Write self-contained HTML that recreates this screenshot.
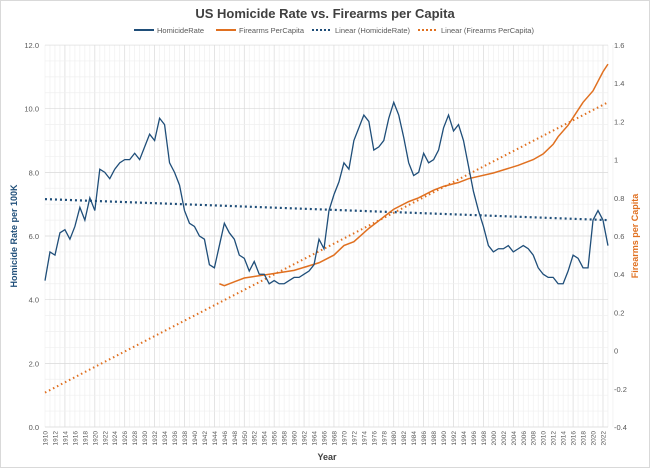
<!DOCTYPE html>
<html><head><meta charset="utf-8"><style>
body{margin:0;background:#fff;}
svg{display:block;font-family:"Liberation Sans",sans-serif;}
</style></head><body>
<svg id="s" width="650" height="468" viewBox="0 0 650 468">
<rect x="0.5" y="0.5" width="649" height="467" fill="#fff" stroke="#d9d9d9"/>
<text x="325" y="18" text-anchor="middle" font-size="13" font-weight="bold" fill="#404040">US Homicide Rate vs. Firearms per Capita</text>
<g font-size="7.5" fill="#595959">
<line x1="134" y1="30" x2="154" y2="30" stroke="#1f4e79" stroke-width="2"/><text x="157" y="33">HomicideRate</text>
<line x1="216" y1="30" x2="236" y2="30" stroke="#e07020" stroke-width="2"/><text x="239" y="33">Firearms PerCapita</text>
<line x1="312" y1="30" x2="332" y2="30" stroke="#1f4e79" stroke-width="2" stroke-dasharray="2,2"/><text x="335" y="33">Linear (HomicideRate)</text>
<line x1="418" y1="30" x2="438" y2="30" stroke="#e07020" stroke-width="2" stroke-dasharray="2,2"/><text x="441" y="33">Linear (Firearms PerCapita)</text>
</g>
<g id="g"></g>
<text transform="translate(17,236) rotate(-90)" text-anchor="middle" font-size="9" font-weight="bold" fill="#1f4e79">Homicide Rate per 100K</text>
<text transform="translate(638,236) rotate(-90)" text-anchor="middle" font-size="9" font-weight="bold" fill="#e07020">Firearms per Capita</text>
<text x="327" y="460" text-anchor="middle" font-size="9" font-weight="bold" fill="#404040">Year</text>
</svg>
<script>
const g=document.getElementById('g');let h='';
const X=y=>45+(y-1910)*4.982, YL=v=>427-v*31.83, YR=v=>427-(v+0.4)*191;
for(let y=1910;y<=2024;y++){const x=X(y);h+=`<line x1="${x}" y1="45" x2="${x}" y2="427" stroke="${(y-1910)%6==4?'#d9d9d9':'#efefef'}" stroke-width="0.7"/>`;}
for(let v=0;v<=12;v+=0.5){const y=YL(v);h+=`<line x1="45" y1="${y}" x2="608" y2="${y}" stroke="${v%2==0?'#d9d9d9':'#efefef'}" stroke-width="0.7"/>`;}
for(let v=0;v<=12;v+=2)h+=`<text x="39" y="${YL(v)+3}" text-anchor="end" font-size="7.5" fill="#595959">${v.toFixed(1)}</text>`;
for(let i=0;i<=10;i++){const v=-0.4+i*0.2;let t=Math.abs(v-Math.round(v))<1e-9?String(Math.round(v)):v.toFixed(1);h+=`<text x="614" y="${YR(v)+3}" font-size="7.5" fill="#595959">${t}</text>`;}
for(let y=1910;y<=2022;y+=2)h+=`<text transform="translate(${X(y)+2.5},431) rotate(-90)" text-anchor="end" font-size="6.5" fill="#595959">${y}</text>`;
const hr=[4.6,5.5,5.4,6.1,6.2,5.9,6.3,6.9,6.5,7.2,6.8,8.1,8.0,7.8,8.1,8.3,8.4,8.4,8.6,8.4,8.8,9.2,9.0,9.7,9.5,8.3,8.0,7.6,6.8,6.4,6.3,6.0,5.9,5.1,5.0,5.7,6.4,6.1,5.9,5.4,5.3,4.9,5.2,4.8,4.8,4.5,4.6,4.5,4.5,4.6,4.7,4.7,4.8,4.9,5.1,5.9,5.6,6.8,7.3,7.7,8.3,8.1,9.0,9.4,9.8,9.6,8.7,8.8,9.0,9.7,10.2,9.8,9.1,8.3,7.9,8.0,8.6,8.3,8.4,8.7,9.4,9.8,9.3,9.5,9.0,8.2,7.4,6.8,6.3,5.7,5.5,5.6,5.6,5.7,5.5,5.6,5.7,5.6,5.4,5.0,4.8,4.7,4.7,4.5,4.5,4.9,5.4,5.3,5.0,5.0,6.5,6.8,6.5,5.7];
const fk=[[1945,.35],[1946,.34],[1948,.36],[1950,.38],[1955,.40],[1960,.42],[1965,.46],[1968,.50],[1970,.55],[1972,.57],[1975,.64],[1978,.70],[1980,.74],[1983,.78],[1985,.80],[1988,.84],[1990,.86],[1993,.88],[1995,.90],[2000,.93],[2005,.97],[2008,1.0],[2010,1.03],[2012,1.08],[2013,1.12],[2015,1.18],[2017,1.26],[2018,1.30],[2019,1.33],[2020,1.36],[2021,1.41],[2022,1.46],[2023,1.50]];
h+=`<line x1="${X(1910)}" y1="${YR(-0.22)}" x2="${X(2023)}" y2="${YR(1.30)}" stroke="#e07020" stroke-width="2" stroke-dasharray="1.5,3"/>`;
h+=`<line x1="${X(1910)}" y1="${YL(7.16)}" x2="${X(2023)}" y2="${YL(6.5)}" stroke="#1f4e79" stroke-width="2.2" stroke-dasharray="2,3"/>`;
h+=`<polyline fill="none" stroke="#e07020" stroke-width="1.5" points="${fk.map(p=>X(p[0])+','+YR(p[1])).join(' ')}"/>`;
h+=`<polyline fill="none" stroke="#1f4e79" stroke-width="1.3" points="${hr.map((v,i)=>X(1910+i)+','+YL(v)).join(' ')}"/>`;
g.innerHTML=h;
</script>
</body></html>
